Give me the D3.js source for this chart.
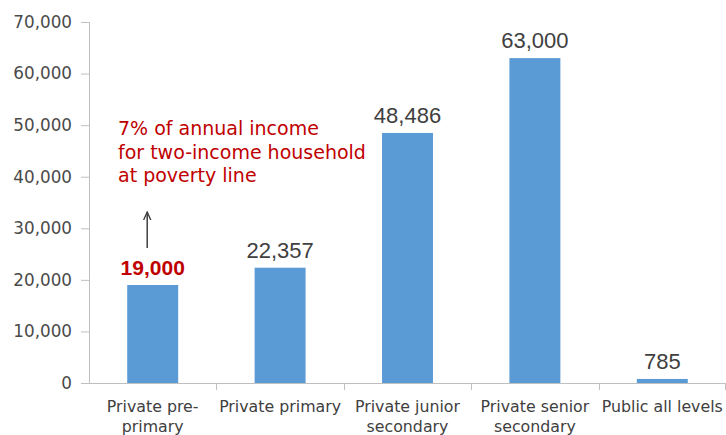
<!DOCTYPE html>
<html>
<head>
<meta charset="utf-8">
<script src="https://cdn.jsdelivr.net/npm/d3@7/dist/d3.min.js"></script>
<style>
  html, body { margin: 0; padding: 0; background: #fff; }
  svg { display: block; }
</style>
</head>
<body>
<svg id="chart" width="726" height="435"></svg>
<script>
const categories = ["Private pre-primary", "Private primary", "Private junior secondary", "Private senior secondary", "Public all levels"];
const categoryLines = [["Private pre-", "primary"], ["Private primary"], ["Private junior", "secondary"], ["Private senior", "secondary"], ["Public all levels"]];
const values = [19000, 22357, 48486, 63000, 785];
const yTicks = [0, 10000, 20000, 30000, 40000, 50000, 60000, 70000];
const highlightIndex = 0;
const annotationLines = ["7% of annual income", "for two-income household", "at poverty line"];

(function () {
const svg = d3.select("#chart");
const mLeft = 89, mRight = 726, mTop = 22, mBottom = 383;

const x = d3.scaleBand().domain(categories).range([mLeft, mRight]).paddingInner(0.6).paddingOuter(0.3);
const y = d3.scaleLinear().domain([0, 70000]).range([mBottom, mTop]);
const fmt = d3.format(",");

// Y axis
const yAxis = svg.append("g")
  .attr("transform", `translate(${mLeft},0)`)
  .call(d3.axisLeft(y).tickValues(yTicks).tickFormat(fmt).tickSize(8).tickPadding(9));
yAxis.select(".domain").attr("stroke", "#bfbfbf");
yAxis.selectAll(".tick line").attr("stroke", "#bfbfbf");
yAxis.selectAll(".tick text")
  .attr("font-family", "DejaVu Sans, sans-serif")
  .attr("font-size", 16.8)
  .attr("fill", "#4a4a4a");

// Bars
svg.append("g").selectAll("rect").data(values).join("rect")
  .attr("x", (d, i) => x(categories[i]))
  .attr("y", d => y(d))
  .attr("width", x.bandwidth())
  .attr("height", d => y(0) - y(d))
  .attr("fill", "#5B9BD5");

// X axis line and boundary ticks
const step = x.step();
const xg = svg.append("g");
xg.append("line")
  .attr("x1", mLeft).attr("x2", mRight)
  .attr("y1", y(0) + 0.5).attr("y2", y(0) + 0.5)
  .attr("stroke", "#bfbfbf");
const bounds = categories.map(c => x(c) - x.paddingOuter() * step).concat([mRight - 1]);
xg.selectAll("line.sep").data(bounds.slice(1)).join("line")
  .attr("class", "sep")
  .attr("x1", d => Math.round(d) + 0.5).attr("x2", d => Math.round(d) + 0.5)
  .attr("y1", y(0)).attr("y2", y(0) + 7)
  .attr("stroke", "#bfbfbf");

// Category labels
const catG = svg.append("g")
  .attr("font-family", "DejaVu Sans, sans-serif")
  .attr("font-size", 15.8)
  .attr("fill", "#404040")
  .attr("text-anchor", "middle");
categoryLines.forEach((lines, i) => {
  const cx = x(categories[i]) + x.bandwidth() / 2;
  lines.forEach((ln, j) => {
    catG.append("text").attr("x", cx).attr("y", 412 + j * 20).text(ln);
  });
});

// Value labels
svg.append("g").selectAll("text").data(values).join("text")
  .attr("x", (d, i) => x(categories[i]) + x.bandwidth() / 2)
  .attr("y", d => y(d) - 10)
  .attr("text-anchor", "middle")
  .attr("font-family", "Liberation Sans, Arial, sans-serif")
  .attr("font-size", (d, i) => i === highlightIndex ? 21 : 22)
  .attr("font-weight", (d, i) => i === highlightIndex ? "bold" : "normal")
  .attr("fill", (d, i) => i === highlightIndex ? "#C00000" : "#404040")
  .text(d => fmt(d));

// Arrow
const hx = x(categories[highlightIndex]) + x.bandwidth() / 2 - 5.5;
const defs = svg.append("defs");
defs.append("marker")
  .attr("id", "arrowhead")
  .attr("viewBox", "0 0 10 10")
  .attr("refX", 9).attr("refY", 5)
  .attr("markerWidth", 6).attr("markerHeight", 6)
  .attr("orient", "auto")
  .append("path")
  .attr("d", "M0,1 L9,5 L0,9")
  .attr("fill", "none")
  .attr("stroke", "#404040")
  .attr("stroke-width", 1.5);
svg.append("line")
  .attr("x1", hx).attr("x2", hx)
  .attr("y1", y(values[highlightIndex]) - 37).attr("y2", y(values[highlightIndex]) - 73)
  .attr("stroke", "#404040")
  .attr("stroke-width", 1.5)
  .attr("marker-end", "url(#arrowhead)");

// Annotation
const ann = svg.append("g")
  .attr("font-family", "DejaVu Sans, sans-serif")
  .attr("font-size", 19)
  .attr("fill", "#C00000");
annotationLines.forEach((ln, j) => {
  ann.append("text").attr("x", 118).attr("y", 135 + j * 23.5).text(ln);
});
})();
</script>
</body>
</html>
